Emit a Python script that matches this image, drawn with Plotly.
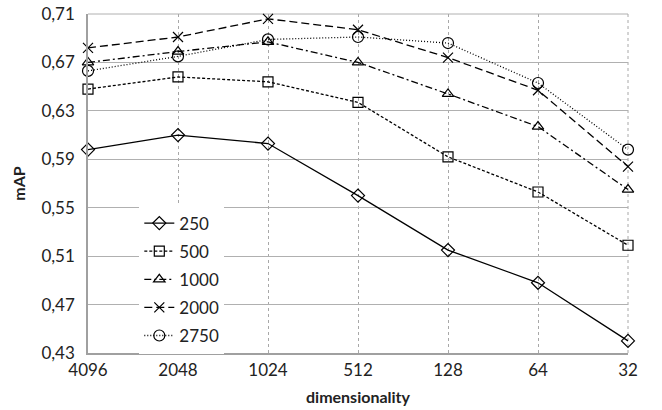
import plotly.graph_objects as go

dims = ["4096", "2048", "1024", "512", "128", "64", "32"]
s250 = [0.598, 0.610, 0.603, 0.560, 0.515, 0.488, 0.440]
s500 = [0.648, 0.658, 0.654, 0.637, 0.592, 0.563, 0.519]
s1000 = [0.670, 0.679, 0.687, 0.670, 0.644, 0.617, 0.565]
s2000 = [0.682, 0.691, 0.706, 0.697, 0.674, 0.647, 0.584]
s2750 = [0.663, 0.675, 0.689, 0.691, 0.686, 0.653, 0.598]
yticks = [0.43, 0.47, 0.51, 0.55, 0.59, 0.63, 0.67, 0.71]

series = [
    ("250", s250, "solid", "diamond-open", 10),
    ("500", s500, "3px,2px", "square-open", 10),
    ("1000", s1000, "7px,3px,2px,3px", "triangle-up-open", 10),
    ("2000", s2000, "8px,4px", "x-thin-open", 10),
    ("2750", s2750, "1px,2px", "circle-open", 11),
]

fig = go.Figure()
for name, vals, dash, sym, sz in series:
    fig.add_trace(go.Scatter(
        x=dims, y=vals, name=name, mode="lines+markers",
        line=dict(color="black", width=1.3, dash=dash),
        marker=dict(symbol=sym, size=sz, color="black",
                    line=dict(color="black", width=1.2)),
        cliponaxis=False, legendgroup=name,
    ))

fig.update_layout(
    width=662, height=410,
    margin=dict(l=88, r=34, t=14, b=57),
    paper_bgcolor="white", plot_bgcolor="white",
    separators=", ",
    font=dict(family="Lato, Open Sans, sans-serif", size=17, color="#222"),
    showlegend=True,
    legend=dict(x=0.095, y=0.435, xanchor="left", yanchor="top",
                bgcolor="white", borderwidth=0, tracegroupgap=3,
                font=dict(size=17), itemwidth=30),
)
fig.update_xaxes(
    type="category", range=[0, 6], showgrid=True, automargin=False,
    gridcolor="#a8a8a8", griddash="dot", gridwidth=1,
    showline=True, linecolor="#a0a0a0", linewidth=1.5,
    ticks="", ticklabelstandoff=1, ticklabeloverflow="allow",
    title=dict(text="<b>dimensionality</b>", font=dict(size=16), standoff=13),
    zeroline=False,
)
fig.update_yaxes(
    range=[0.43, 0.71], tickvals=yticks, tickformat=".2f", automargin=False,
    showgrid=True, gridcolor="#b0b0b0", gridwidth=1,
    showline=True, linecolor="#a0a0a0", linewidth=1.5,
    ticks="", ticklabelstandoff=8, ticklabeloverflow="allow",
    title=dict(text="<b>mAP</b>", font=dict(size=16), standoff=12),
    zeroline=False,
)
fig.add_shape(type="line", xref="paper", yref="paper", x0=0, x1=1, y0=1, y1=1,
              line=dict(color="#b0b0b0", width=1), layer="below")
fig.add_shape(type="line", xref="paper", yref="paper", x0=1, x1=1, y0=0, y1=1,
              line=dict(color="#a8a8a8", width=1, dash="dot"), layer="below")

fig.write_html("out.html", config={"displayModeBar": False},
               post_script="document.body.style.margin='0';")
